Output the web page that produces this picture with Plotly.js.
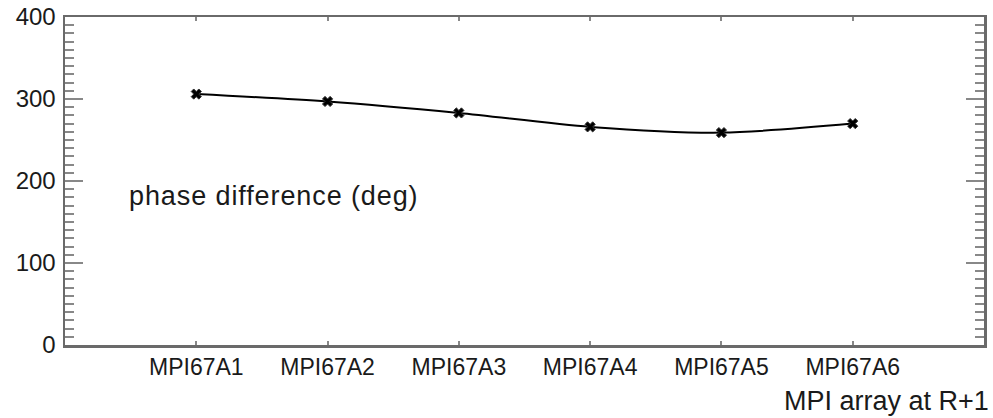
<!DOCTYPE html>
<html>
<head>
<meta charset="utf-8">
<script src="https://cdn.plot.ly/plotly-3.0.1.min.js"></script>
<style>
  html, body { margin: 0; padding: 0; background: #fff; }
  #chart { width: 993px; height: 418px; }
  text.annotation-text[data-unformatted^="phase"] { letter-spacing: 0.9px; }
</style>
</head>
<body>
<div id="chart"></div>
<script>
const categories = ["MPI67A1", "MPI67A2", "MPI67A3", "MPI67A4", "MPI67A5", "MPI67A6"];
const phaseDiff = [306, 297, 283, 266, 259, 270];
const yTickVals = [0, 100, 200, 300, 400];
const annotationLabel = "phase difference (deg)";
const xTitle = "MPI array at R+1";

const FONT = "Liberation Sans, Arial, Helvetica, sans-serif";

const trace = {
  x: categories,
  y: phaseDiff,
  type: "scatter",
  mode: "lines+markers",
  line: { color: "#000", width: 2, shape: "spline", smoothing: 0.8 },
  marker: { symbol: "x", size: 9, color: "#000", line: { width: 1, color: "#333" } },
  hoverinfo: "skip"
};

const layout = {
  width: 993,
  height: 418,
  margin: { l: 65, r: 9, t: 17, b: 73 },
  paper_bgcolor: "#fff",
  plot_bgcolor: "#fff",
  showlegend: false,
  font: { family: FONT, size: 24, color: "#1a1a1a" },
  xaxis: {
    type: "category",
    range: [-1, 6],
    showgrid: false,
    zeroline: false,
    showline: true,
    linecolor: "#6a6a6a",
    linewidth: 2.5,
    mirror: "ticks",
    ticks: "inside",
    ticklen: 4,
    tickwidth: 2,
    tickcolor: "#888",
    ticklabelstandoff: 0,
    tickfont: { family: FONT, size: 23, color: "#1a1a1a" },
    fixedrange: true
  },
  yaxis: {
    range: [0, 400],
    tickvals: yTickVals,
    ticktext: yTickVals.map(String),
    showgrid: false,
    zeroline: false,
    showline: true,
    linecolor: "#6a6a6a",
    linewidth: 2.5,
    mirror: "ticks",
    ticks: "inside",
    ticklen: 18,
    tickwidth: 2,
    tickcolor: "#888",
    ticklabelstandoff: 2,
    tickfont: { family: FONT, size: 24, color: "#1a1a1a" },
    minor: { dtick: 10, ticks: "inside", ticklen: 9, tickwidth: 2, tickcolor: "#888", showgrid: false },
    fixedrange: true
  },
  annotations: [
    {
      text: annotationLabel,
      xref: "paper", yref: "y",
      x: 0.068, y: 182,
      xanchor: "left", yanchor: "middle",
      showarrow: false,
      font: { family: FONT, size: 27, color: "#1a1a1a" }
    },
    {
      text: xTitle,
      xref: "paper", yref: "paper",
      x: 1.008, y: -0.172,
      xanchor: "right", yanchor: "middle",
      showarrow: false,
      font: { family: FONT, size: 27, color: "#1a1a1a" }
    }
  ]
};

Plotly.newPlot("chart", [trace], layout, { staticPlot: true, displayModeBar: false });
</script>
</body>
</html>
